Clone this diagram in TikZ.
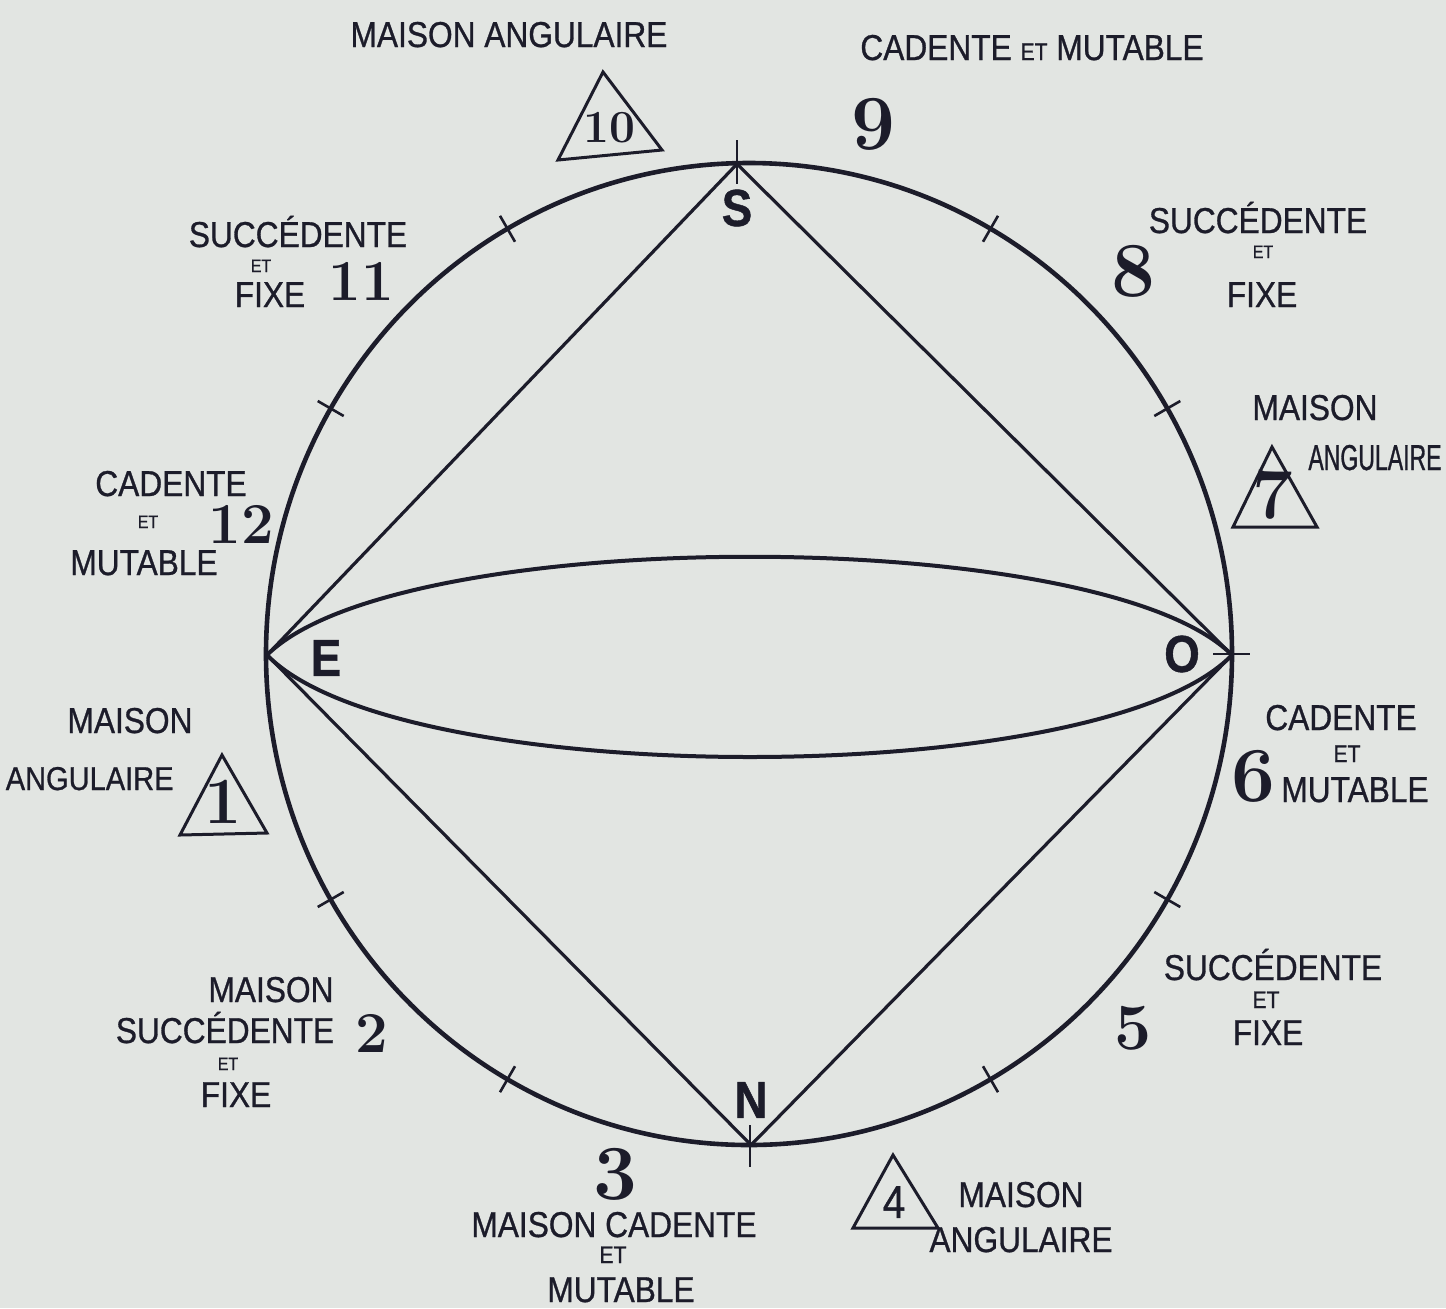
\documentclass[tikz,border=0pt]{standalone}
\usepackage{fontspec}
\usetikzlibrary{calc}
\newfontfamily\labfont[FakeStretch=0.88,FakeBold=0.8]{Liberation Sans}
\newfontfamily\narrowfont[FakeStretch=0.64,FakeBold=0.8]{Liberation Sans}
\definecolor{paper}{RGB}{226,229,226}
\definecolor{ink}{RGB}{28,28,42}
\begin{document}
\begin{tikzpicture}[x=0.5pt,y=-0.5pt,
  lab/.style={font=\labfont\fontsize{18}{20}\selectfont, text=ink, inner sep=0pt, anchor=base},
  etsmall/.style={font=\labfont\fontsize{9}{10}\selectfont, text=ink, inner sep=0pt, anchor=base},
  etmid/.style={font=\labfont\fontsize{12}{13}\selectfont, text=ink, inner sep=0pt, anchor=base},
  bignum/.style={font=\fontsize{39}{40}\selectfont\bfseries, text=ink, inner sep=0pt},
  midnum/.style={font=\fontsize{29}{30}\selectfont\bfseries, text=ink, inner sep=0pt},
  pole/.style={font=\labfont\bfseries\fontsize{26}{28}\selectfont, text=ink, inner sep=0pt},
  tri/.style={draw=ink, line width=1.5pt, line join=miter},
  ring/.style={draw=ink, line width=2.3pt},
  chord/.style={draw=ink, line width=1.6pt},
  lens/.style={draw=ink, line width=2pt},
  tick/.style={draw=ink, line width=1.3pt}
]
\useasboundingbox (0,0) rectangle (1446,1308);
\fill[paper] (0,0) rectangle (1446,1308);

% main circle
\coordinate (c) at (749,654);
\draw[ring] (c) ellipse [x radius=483, y radius=491];

% cardinal points
\coordinate (S) at (737,164);
\coordinate (N) at (751,1145);
\coordinate (E) at (267,655);
\coordinate (O) at (1232,655);

% ticks
\draw[tick] (737,140) -- (737,184);
\draw[tick] (750,1125) -- (750,1167);
\draw[tick] (1213,654) -- (1250,654);
\foreach \a in {60,30,-30,-60,-120,-150,150,120}
  \draw[tick] ($(c)+(-\a:468 and 476)$) -- ($(c)+(-\a:498 and 506)$);

% diamond
\draw[chord] (S) -- (E);
\draw[chord] (S) -- (O);
\draw[chord] (E) -- (N);
\draw[chord] (O) -- (N);

% lens
\draw[lens] (E) .. controls (399,524) and (1101,524) .. (O);
\draw[lens] (E) .. controls (399,791) and (1101,791) .. (O);

% pole letters
\node[pole] (lS) at (737,208) {S};
\node[pole] (lE) at (326,658) {E};
\node[pole] (lO) at (1182,654) {O};
\node[pole] (lN) at (751,1100) {N};

% house 10
\node[lab] (t10) at (509,47) {MAISON ANGULAIRE};
\draw[tri] (603,72) -- (558,160) -- (662,150) -- cycle;
\node[font=\fontsize{23}{24}\selectfont\bfseries, text=ink, inner sep=0pt] (n10) at (609,128) {10};

% house 9
\node[lab] (t9) at (1032,60) {CADENTE {\fontsize{12}{13}\selectfont ET} MUTABLE};
\node[bignum] (n9) at (873,124) {9};

% house 11
\node[lab] (t11a) at (298,247) {SUCCÉDENTE};
\node[etsmall] (t11b) at (261,272) {ET};
\node[lab] (t11c) at (270,307) {FIXE};
\node[midnum] (n11) at (361,281) {11};

% house 12
\node[lab] (t12a) at (171,496) {CADENTE};
\node[etsmall] (t12b) at (148,528) {ET};
\node[lab] (t12c) at (144,575) {MUTABLE};
\node[midnum] (n12) at (241,524) {12};

% house 1
\node[lab] (t1a) at (130,733) {MAISON};
\node[lab, font=\labfont\fontsize{16.5}{18}\selectfont, anchor=base east] (t1b) at (174,790) {ANGULAIRE};
\draw[tri] (222,755) -- (180,835) -- (267,833) -- cycle;
\node[font=\fontsize{33}{34}\selectfont\bfseries, text=ink, inner sep=0pt] (n1) at (223,802) {1};

% house 2
\node[lab] (t2a) at (271,1002) {MAISON};
\node[lab] (t2b) at (225,1043) {SUCCÉDENTE};
\node[etsmall] (t2c) at (228,1070) {ET};
\node[lab] (t2d) at (236,1107) {FIXE};
\node[midnum] (n2) at (372,1033) {2};

% house 3
\node[bignum] (n3) at (615,1174) {3};
\node[lab] (t3a) at (614,1237) {MAISON CADENTE};
\node[etmid] (t3b) at (613,1263) {ET};
\node[lab] (t3c) at (621,1302) {MUTABLE};

% house 4
\draw[tri] (893,1155) -- (853,1228) -- (938,1228) -- cycle;
\node[font=\labfont\fontsize{23}{24}\selectfont, text=ink, inner sep=0pt] (n4) at (894,1202) {4};
\node[lab] (t4a) at (1021,1207) {MAISON};
\node[lab] (t4b) at (1021,1252) {ANGULAIRE};

% house 5
\node[lab] (t5a) at (1273,980) {SUCCÉDENTE};
\node[etmid] (t5b) at (1266,1008) {ET};
\node[lab] (t5c) at (1268,1045) {FIXE};
\node[font=\fontsize{33}{34}\selectfont\bfseries, text=ink, inner sep=0pt] (n5) at (1133,1028) {5};

% house 6
\node[bignum] (n6) at (1253,776) {6};
\node[lab] (t6a) at (1341,730) {CADENTE};
\node[etmid] (t6b) at (1347,762) {ET};
\node[lab] (t6c) at (1355,802) {MUTABLE};

% house 7
\node[lab] (t7a) at (1315,420) {MAISON};
\node[font=\narrowfont\fontsize{18}{20}\selectfont, text=ink, inner sep=0pt, anchor=base west] (t7b) at (1308,470) {ANGULAIRE};
\draw[tri] (1272,447) -- (1233,527) -- (1317,527) -- cycle;
\node[font=\fontsize{36}{37}\selectfont\bfseries, text=ink, inner sep=0pt] (n7) at (1273,495) {7};

% house 8
\node[lab] (t8a) at (1258,233) {SUCCÉDENTE};
\node[etsmall] (t8b) at (1263,258) {ET};
\node[lab] (t8c) at (1262,307) {FIXE};
\node[bignum] (n8) at (1133,271) {8};
\end{tikzpicture}
\end{document}
